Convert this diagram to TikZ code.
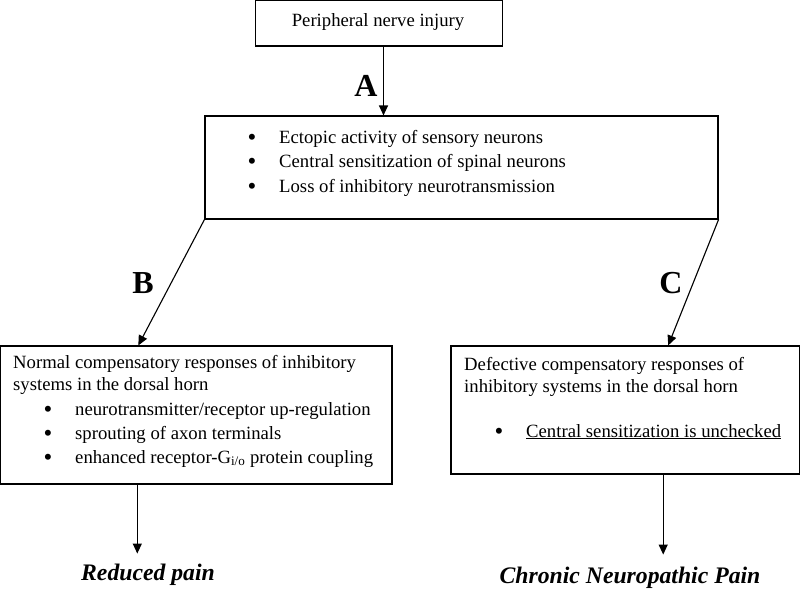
\documentclass[tikz,border=0pt]{standalone}
\usepackage{fontspec}
\setmainfont{Liberation Serif}
\usetikzlibrary{arrows.meta,fit}
\begin{document}
\begin{tikzpicture}[x=1pt,y=-1pt,
  box/.style={draw, line width=1.1pt, inner sep=0pt},
  txt/.style={inner sep=0pt, font=\fontsize{18.7}{24}\selectfont},
  bul/.style={inner sep=0pt, font=\fontsize{25}{25}\selectfont},
  lbl/.style={inner sep=0pt, font=\fontsize{32}{36}\selectfont\bfseries},
  outc/.style={inner sep=0pt, font=\fontsize{23.7}{28}\selectfont\bfseries\itshape},
  arr/.style={line width=1.1pt, -{Triangle[length=10pt,width=9pt]}}]
\useasboundingbox (0,0) rectangle (800,589);
% boxes
\node[box, fit={(255.5,0.6)(502.5,46)}] (inj) {};
\node[box, fit={(205,116)(718,219)}] (mech) {};
\node[box, fit={(0.6,346)(392,484)}] (nb) {};
\node[box, fit={(451,346)(799.4,474)}] (nc) {};
% top text
\node[txt, anchor=base] (injt) at (378,26) {Peripheral nerve injury};
% mechanisms
\node[bul, anchor=base] (m1b) at (252,145) {•};
\node[txt, anchor=base west] (m1) at (279,143) {Ectopic activity of sensory neurons};
\node[bul, anchor=base] (m2b) at (252,169.5) {•};
\node[txt, anchor=base west] (m2) at (279,167.5) {Central sensitization of spinal neurons};
\node[bul, anchor=base] (m3b) at (252,194) {•};
\node[txt, anchor=base west] (m3) at (279,192) {Loss of inhibitory neurotransmission};
% box B
\node[txt, anchor=base west] (n1) at (13,368) {Normal compensatory responses of inhibitory};
\node[txt, anchor=base west] (n2) at (13,390) {systems in the dorsal horn};
\node[bul, anchor=base] (n3b) at (48,417) {•};
\node[txt, anchor=base west] (n3) at (75,415) {neurotransmitter/receptor up-regulation};
\node[bul, anchor=base] (n4b) at (48,441) {•};
\node[txt, anchor=base west] (n4) at (75,439) {sprouting of axon terminals};
\node[bul, anchor=base] (n5b) at (48,465) {•};
\node[txt, anchor=base west] (n5) at (75,463) {enhanced receptor-G\textsubscript{i/o} protein coupling};
% box C
\node[txt, anchor=base west] (c1) at (464,370) {Defective compensatory responses of};
\node[txt, anchor=base west] (c2) at (464,392) {inhibitory systems in the dorsal horn};
\node[bul, anchor=base] (c3b) at (499,439) {•};
\node[txt, anchor=base west] (c3) at (526,437) {\underline{Central sensitization is unchecked}};
% labels
\node[lbl, anchor=base] (la) at (366,96) {A};
\node[lbl, anchor=base] (lb) at (143,293) {B};
\node[lbl, anchor=base] (lc) at (671,293) {C};
% outcomes
\node[outc, anchor=base] (red) at (148,580) {Reduced pain};
\node[outc, anchor=base] (cnp) at (630,583) {Chronic Neuropathic Pain};
% connectors
\draw[arr] ([xshift=4.5pt]inj.south) -- ([xshift=4.5pt]inj.south |- mech.north);
\draw[arr] (mech.south west) -- ([xshift=-58pt]nb.north);
\draw[arr] (mech.south east) -- ([xshift=43pt]nc.north);
\draw[arr] ([xshift=-59pt]nb.south) -- ([xshift=-59pt,yshift=-69pt]nb.south);
\draw[arr] ([xshift=38pt]nc.south) -- ([xshift=38pt,yshift=-80pt]nc.south);
\end{tikzpicture}
\end{document}
